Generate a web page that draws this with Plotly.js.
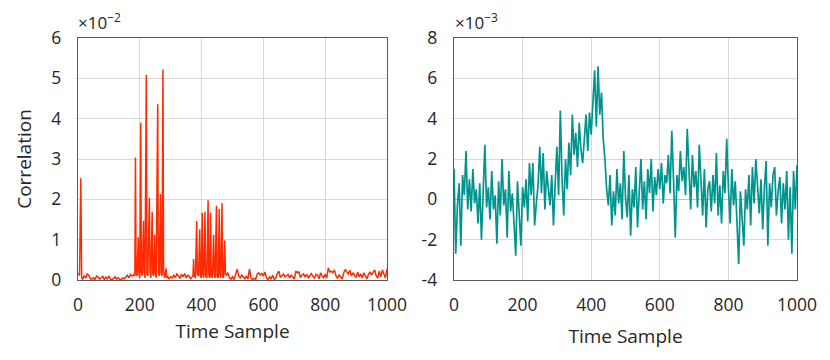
<!DOCTYPE html>
<html>
<head>
<meta charset="utf-8">
<script src="https://cdn.plot.ly/plotly-3.0.1.min.js"></script>
<style>
  html, body { margin: 0; padding: 0; background: #fff; }
  #chart { width: 830px; height: 360px; }
</style>
</head>
<body>
<div id="chart"></div>
<script>
// left panel: correlation, values in units of 1e-2
let leftSamples = [
  0, 5, 9, 12, 15, 20, 25, 30, 35, 40, 45, 50, 55, 60, 65, 70, 75, 80, 85, 90, 95,
  100, 105, 110, 115, 120, 125, 130, 135, 140, 145, 150, 155, 160, 165, 170, 175, 180,
  181, 184, 186, 188, 191, 195, 197, 200, 203, 205, 208, 212, 214, 217, 221, 223, 226,
  231, 233, 236, 240, 242, 245, 248, 250, 253, 258, 260, 263, 267, 269, 272, 275, 277,
  280, 285, 287, 290,
  295, 300, 305, 310, 315, 320, 325, 330, 335, 340, 345, 350, 355, 360, 365, 370,
  372, 374, 376, 380, 384, 386, 390, 394, 396, 399, 402, 404, 407, 411, 413, 417, 421,
  423, 426, 429, 431, 435, 439, 441, 444, 448, 450, 454, 457, 459, 462, 466, 468, 471,
  475, 477, 480,
  485, 490, 495, 500, 505, 510, 515, 520, 525, 530, 535, 540, 545, 550, 555, 560, 565,
  570, 575, 580, 585, 590, 595, 600, 605, 610, 615, 620, 625, 630, 635, 640, 645, 650,
  655, 660, 665, 670, 675, 680, 685, 690, 695, 700, 705, 710, 715, 720, 725, 730, 735,
  740, 745, 750, 755, 760, 765, 770, 775, 780, 785, 790, 795, 800, 805, 810, 815, 820,
  825, 830, 835, 840, 845, 850, 855, 860, 865, 870, 875, 880, 885, 890, 895, 900, 905,
  910, 915, 920, 925, 930, 935, 940, 945, 950, 955, 960, 965, 970, 975, 980, 985, 990,
  995, 1000
];
let leftCorr = [
  0.15, 0.12, 2.52, 0.05, 0.02, 0.10, 0.05, 0.15, 0.12, 0.03, 0.02, 0.06, 0.01, 0.10, 0.08, 0.02, 0.05, 0.09, 0.01, 0.07, 0.03,
  0.10, 0.02, 0.01, 0.04, 0.08, 0.02, 0.06, 0.01, 0.02, 0.05, 0.03, 0.08, 0.12, 0.05, 0.14, 0.10, 0.12,
  0.15, 0.10, 3.04, 0.20, 0.10, 1.06, 0.15, 0.05, 3.90, 0.20, 0.10, 1.47, 0.20, 0.05, 5.08, 0.15, 0.10,
  2.04, 0.20, 0.05, 1.69, 0.15, 0.10, 1.12, 0.20, 0.05, 4.36, 0.20, 0.10, 2.13, 0.15, 0.10, 5.22, 0.20,
  0.05, 0.29, 0.05, 0.10,
  0.02, 0.08, 0.05, 0.12, 0.06, 0.15, 0.10, 0.04, 0.14, 0.08, 0.16, 0.05, 0.12, 0.09, 0.03, 0.10,
  0.10, 0.52, 0.10, 0.05, 1.46, 0.15, 0.10, 1.26, 0.10, 0.05, 1.67, 0.15, 0.05, 1.69, 0.10, 0.05, 1.98,
  0.15, 0.05, 1.67, 0.10, 0.05, 1.12, 0.15, 0.05, 1.84, 0.10, 0.05, 1.76, 0.15, 0.05, 1.90, 0.10, 0.05,
  0.98, 0.15, 0.12,
  0.18, 0.05, 0.02, 0.08, 0.01, 0.12, 0.27, 0.10, 0.05, 0.12, 0.08, 0.03, 0.10, 0.02, 0.27, 0.05, 0.01,
  0.04, 0.02, 0.15, 0.18, 0.12, 0.16, 0.10, 0.20, 0.05, 0.01, 0.08, 0.03, 0.12, 0.02, 0.05, 0.16, 0.22,
  0.06, 0.12, 0.15, 0.08, 0.10, 0.14, 0.05, 0.12, 0.08, 0.02, 0.22, 0.18, 0.20, 0.06, 0.12, 0.15, 0.08,
  0.14, 0.05, 0.12, 0.16, 0.10, 0.04, 0.14, 0.12, 0.03, 0.18, 0.10, 0.06, 0.14, 0.05, 0.30, 0.20, 0.22,
  0.18, 0.25, 0.10, 0.04, 0.12, 0.08, 0.02, 0.18, 0.26, 0.20, 0.15, 0.24, 0.10, 0.18, 0.12, 0.06, 0.20,
  0.08, 0.15, 0.05, 0.18, 0.10, 0.03, 0.14, 0.20, 0.12, 0.18, 0.25, 0.10, 0.05, 0.22, 0.08, 0.25, 0.15,
  0.05, 0.27
];

// right panel: samples every 5, values in units of 1e-3
let rightSamples = [];
for (let i = 0; i <= 1000; i += 5) rightSamples.push(i);
let rightCorr = [
  1.5, -2.7, -0.3, 0.8, -2.3, 1.2, 0.2, 2.4, -0.5, 1.0,
  -0.6, 1.5, -0.2, 0.5, -1.2, 0.8, -2.0, 0.3, 2.7, -0.4,
  0.6, -1.0, 1.4, -0.5, 0.2, -2.2, 0.9, -0.8, 2.0, -0.3,
  0.5, -1.9, 1.4, -0.6, 0.3, -1.2, -2.8, 0.9, -0.7, -2.3,
  0.6, -0.4, 1.0, -1.1, 1.8, 0.2, 1.8, -1.3, -0.2, 0.7,
  2.6, 0.3, 2.3, -0.5, 1.4, 0.5, -0.3, 1.2, -1.3, 0.8,
  2.6, 0.2, 4.4, 1.0, -0.8, 2.0, 0.5, 2.8, 1.2, 4.2,
  2.2, 3.3, 1.6, 3.8, 2.5, 1.8, 3.0, 4.2, 2.4, 4.3,
  3.2, 4.8, 6.4, 3.6, 6.6, 4.2, 5.3, 3.0, 2.0, 0.5,
  -0.3, 1.2, -1.3, 0.4, -0.8, 1.5, -0.2, 0.8, -1.0, 2.4,
  0.1, -0.9, 1.2, -1.8, 0.5, -0.4, 1.6, -1.4, 0.2, 2.0,
  -0.5, 0.9, -1.0, 1.5, 0.3, 2.0, -0.6, 1.1, 0.2, 1.5,
  0.5, 1.8, -0.2, 1.2, 0.8, 2.2, 0.3, 3.4, 1.0, -1.9,
  1.2, 0.4, 2.4, 0.9, 1.6, 0.2, 3.5, 1.3, -0.5, 2.2,
  0.6, 1.4, -0.4, 2.7, 0.8, -0.8, 1.5, -1.4, 0.5, 0.9,
  -0.6, 1.2, -0.2, 2.3, -0.8, 0.7, -1.2, 1.4, 0.3, 3.0,
  0.6, -1.2, 1.5, -0.3, 0.9, -1.6, -3.2, 0.4, -0.9, -2.3,
  0.5, -0.5, 1.2, -1.3, 1.6, -0.2, 2.0, 0.3, -0.7, 1.0,
  -1.5, 0.6, 1.9, -2.3, 0.8, -0.4, 1.2, 1.6, -0.8, 0.4,
  1.1, -1.2, 0.8, -0.5, 1.4, -2.0, 0.6, -2.7, 1.4, -0.5,
  1.7
];

let xTicks = [0, 200, 400, 600, 800, 1000];
let rightYTicks = [-4, -2, 0, 2, 4, 6, 8];
let rightYLabels = ["-4", "-2", "0", "2", "4", "6", "8"];

let font = "Open Sans, Noto Sans, sans-serif";
let textColor = "#262626";

function axisX(domain, anchor, standoff) {
  return {
    domain: domain, anchor: anchor,
    range: [0, 1000], tickvals: xTicks, ticks: "",
    ticklabelstandoff: 9,
    showgrid: true, gridcolor: "#d9d9d9", gridwidth: 1,
    zeroline: false, showline: true, mirror: true,
    linecolor: "#595959", linewidth: 1.3,
    tickfont: { family: font, size: 17.5, color: textColor },
    title: { text: "Time Sample", font: { family: font, size: 19, color: textColor }, standoff: standoff }
  };
}

let data = [
  {
    x: leftSamples, y: leftCorr, type: "scatter", mode: "lines",
    line: { color: "#ff2a00", width: 1.5 }, xaxis: "x", yaxis: "y"
  },
  {
    x: rightSamples, y: rightCorr, type: "scatter", mode: "lines",
    line: { color: "#00948f", width: 1.7 }, xaxis: "x2", yaxis: "y2"
  }
];

let layout = {
  width: 830, height: 360,
  margin: { l: 0, r: 0, t: 0, b: 0 },
  paper_bgcolor: "#fff", plot_bgcolor: "#fff",
  showlegend: false,
  xaxis: axisX([78 / 830, 387 / 830], "y", 9),
  xaxis2: axisX([454 / 830, 797 / 830], "y2", 14),
  yaxis: {
    domain: [80 / 360, 322 / 360], anchor: "x",
    range: [0, 6], dtick: 1, ticks: "",
    ticklabelstandoff: 12,
    showgrid: true, gridcolor: "#d9d9d9", zeroline: false,
    showline: true, mirror: true, linecolor: "#595959", linewidth: 1.3,
    tickfont: { family: font, size: 17.5, color: textColor },
    title: { text: "Correlation", font: { family: font, size: 19, color: textColor }, standoff: 14 }
  },
  yaxis2: {
    domain: [80 / 360, 322 / 360], anchor: "x2",
    range: [-4, 8], tickvals: rightYTicks, ticktext: rightYLabels, ticks: "",
    ticklabelstandoff: 12,
    showgrid: true, gridcolor: "#d9d9d9",
    zeroline: true, zerolinecolor: "#bfbfbf", zerolinewidth: 1,
    showline: true, mirror: true, linecolor: "#595959", linewidth: 1.3,
    tickfont: { family: font, size: 17.5, color: textColor }
  },
  annotations: [
    {
      text: "×10<sup>−2</sup>", xref: "paper", yref: "paper",
      x: 76 / 830, y: (360 - 21) / 360, xanchor: "left", yanchor: "middle",
      showarrow: false, font: { family: font, size: 17, color: textColor }
    },
    {
      text: "×10<sup>−3</sup>", xref: "paper", yref: "paper",
      x: 453 / 830, y: (360 - 21) / 360, xanchor: "left", yanchor: "middle",
      showarrow: false, font: { family: font, size: 17, color: textColor }
    }
  ]
};

Plotly.newPlot("chart", data, layout, { staticPlot: true, displayModeBar: false });
</script>
</body>
</html>
